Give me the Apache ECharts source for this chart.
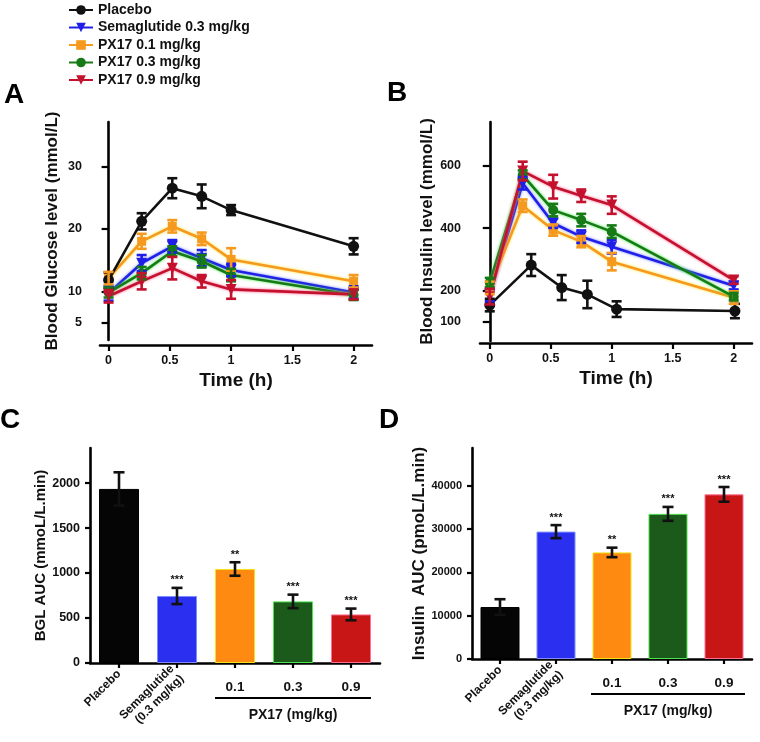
<!DOCTYPE html>
<html>
<head>
<meta charset="utf-8">
<script src="https://cdn.jsdelivr.net/npm/echarts@6/dist/echarts.min.js"></script>
<style>html,body{margin:0;padding:0;background:#fff;}#main{width:760px;height:742px;}</style>
</head>
<body>
<div id="main"></div>
<script>
// ---------- data ----------
var seriesNames = ['Placebo', 'Semaglutide 0.3 mg/kg', 'PX17 0.1 mg/kg', 'PX17 0.3 mg/kg', 'PX17 0.9 mg/kg'];

// Panel A: blood glucose (mmol/L)
var timeA = [0, 0.27, 0.52, 0.76, 1.0, 2.0];
var glucPlacebo = [11.8, 21.2, 26.5, 25.2, 23.0, 17.2];
var glucSema    = [9.7, 14.5, 17.2, 15.3, 13.4, 9.8];
var glucPX01    = [12.1, 18.0, 20.4, 18.4, 15.1, 11.6];
var glucPX03    = [9.8, 12.9, 16.4, 14.8, 12.6, 9.4];
var glucPX09    = [9.2, 11.6, 13.7, 11.6, 10.3, 9.5];
var errGlucPlacebo = [1.2, 1.3, 1.6, 1.9, 0.8, 1.3];
var errGlucSema    = [1.2, 1.3, 1.0, 1.3, 1.0, 1.0];
var errGlucPX01    = [1.0, 1.2, 1.0, 1.0, 1.8, 1.0];
var errGlucPX03    = [0.8, 1.0, 0.8, 1.0, 1.0, 0.8];
var errGlucPX09    = [1.0, 1.3, 1.8, 1.0, 1.5, 0.8];
var ticksA = [5, 10, 20, 30];

// Panel B: blood insulin
var timeB = [0, 0.27, 0.52, 0.75, 1.0, 2.0];
var timeBPlacebo = [0, 0.34, 0.59, 0.8, 1.04, 2.01];
var insPlacebo = [154, 282, 210, 188, 141, 135];
var insSema    = [186, 544, 416, 373, 341, 216];
var insPX01    = [209, 472, 394, 357, 293, 178];
var insPX03    = [226, 570, 458, 426, 389, 181];
var insPX09    = [181, 583, 533, 504, 474, 234];
var errInsPlacebo = [20, 35, 40, 44, 25, 23];
var errInsSema    = [20, 20, 15, 20, 22, 12];
var errInsPX01    = [20, 20, 18, 18, 28, 20];
var errInsPX03    = [15, 15, 20, 20, 20, 12];
var errInsPX09    = [25, 30, 38, 20, 28, 12];
var ticksB = [100, 200, 400, 600];
var ticksTime = [0, 0.5, 1, 1.5, 2];

// Panels C & D: AUC bars
var barCategories = ['Placebo', 'Semaglutide\n(0.3 mg/kg)', '0.1', '0.3', '0.9'];
var bglAUC = [1935, 745, 1045, 685, 540];
var errBglAUC = [185, 90, 75, 75, 65];
var sigBgl = ['', '***', '**', '***', '***'];
var ticksC = [0, 500, 1000, 1500, 2000];
var insAUC = [12000, 29400, 24600, 33500, 38000];
var errInsAUC = [1800, 1500, 1100, 1600, 1700];
var sigIns = ['', '***', '**', '***', '***'];
var ticksD = [0, 10000, 20000, 30000, 40000];
var groupLabel = 'PX17 (mg/kg)';

// ---------- styles ----------
var FONT = 'Liberation Sans, Arial, sans-serif';
var lineColors = ['#111111', '#1f1fe8', '#f59a1e', '#167a16', '#c4122e'];
var haloColors = ['rgba(0,0,0,0)', '#6f7bff', '#ffe23a', '#3fe83f', '#ff5c8a'];
var symbols = ['circle', 'triangle', 'rect', 'circle', 'triangle'];
var symbolRot = [0, 180, 0, 0, 180];
var symbolSizes = [11, 11, 9, 10, 11];
var barColors = ['#050505', '#2a2ff0', '#ff8a12', '#1b5a1b', '#c81616'];
var barBorders = ['#000000', '#7d8cff', '#f2e21a', '#4fe24f', '#ff6f92'];

var chart = echarts.init(document.getElementById('main'), null, {renderer: 'canvas'});

function errRenderer(color, capW, sig) {
  return function (params, api) {
    var x = api.value(0), lo = api.value(1), hi = api.value(2);
    var pHi = api.coord([x, hi]), pLo = api.coord([x, lo]);
    var h = capW / 2;
    var st = {stroke: color, lineWidth: 2.6};
    var children = [
      {type: 'line', shape: {x1: pHi[0], y1: pHi[1], x2: pLo[0], y2: pLo[1]}, style: st},
      {type: 'line', shape: {x1: pHi[0] - h, y1: pHi[1], x2: pHi[0] + h, y2: pHi[1]}, style: st},
      {type: 'line', shape: {x1: pLo[0] - h, y1: pLo[1], x2: pLo[0] + h, y2: pLo[1]}, style: st}
    ];
    if (sig && sig[params.dataIndex]) {
      children.push({type: 'text', style: {text: sig[params.dataIndex], x: pHi[0], y: pHi[1] - 2,
        align: 'center', verticalAlign: 'bottom', font: 'bold 11px ' + FONT, fill: '#111'}});
    }
    return {type: 'group', children: children};
  };
}

function axisBase() {
  return {
    axisLine: {show: true, lineStyle: {color: '#000', width: 2.6}},
    axisTick: {show: true, length: 6, lineStyle: {color: '#000', width: 2.2}},
    axisLabel: {color: '#111', fontWeight: 'bold', fontFamily: FONT, fontSize: 12.5, margin: 10},
    splitLine: {show: false},
    nameTextStyle: {color: '#111', fontWeight: 'bold', fontFamily: FONT}
  };
}
function merge(a, b) { for (var k in b) a[k] = b[k]; return a; }
function plain(v) { return String(v); }

var glucVals = [glucPlacebo, glucSema, glucPX01, glucPX03, glucPX09];
var glucErrs = [errGlucPlacebo, errGlucSema, errGlucPX01, errGlucPX03, errGlucPX09];
var insVals = [insPlacebo, insSema, insPX01, insPX03, insPX09];
var insErrs = [errInsPlacebo, errInsSema, errInsPX01, errInsPX03, errInsPX09];

var series = [];
// line series (A and B)
[0, 1].forEach(function (panel) {
  seriesNames.forEach(function (name, i) {
    var vals = panel === 0 ? glucVals[i] : insVals[i];
    var times = panel === 0 ? timeA : (i === 0 ? timeBPlacebo : timeB);
    series.push({
      type: 'line', name: name, xAxisIndex: panel, yAxisIndex: panel,
      data: times.map(function (t, k) { return [t, vals[k]]; }),
      symbol: symbols[i], symbolRotate: symbolRot[i], symbolSize: symbolSizes[i],
      color: lineColors[i],
      itemStyle: {color: lineColors[i]},
      lineStyle: {color: lineColors[i], width: 2.6, shadowColor: haloColors[i], shadowBlur: i === 0 ? 0 : 3},
      z: panel === 0 ? (i === 0 ? 5 : 3) : (i === 0 ? 3 : 4),
      animation: false
    });
  });
});
// error bars for lines
[0, 1].forEach(function (panel) {
  seriesNames.forEach(function (name, i) {
    var vals = panel === 0 ? glucVals[i] : insVals[i];
    var errs = panel === 0 ? glucErrs[i] : insErrs[i];
    var times = panel === 0 ? timeA : (i === 0 ? timeBPlacebo : timeB);
    series.push({
      type: 'custom', name: name + ' error', xAxisIndex: panel, yAxisIndex: panel,
      renderItem: errRenderer(lineColors[i], 10, null),
      data: times.map(function (t, k) { return [t, vals[k] - errs[k], vals[k] + errs[k]]; }),
      encode: {x: 0, y: [1, 2]}, z: 6, silent: true, animation: false
    });
  });
});
// bars
function barSeries(xi, yi, vals, bw) {
  return {
    type: 'bar', xAxisIndex: xi, yAxisIndex: yi, barWidth: bw, animation: false,
    data: vals.map(function (v, k) {
      return {value: v, itemStyle: {color: barColors[k], borderColor: barBorders[k], borderWidth: 1}};
    })
  };
}
series.push(barSeries(2, 2, bglAUC, 40));
series.push(barSeries(4, 3, insAUC, 39));
series.push({
  type: 'custom', xAxisIndex: 2, yAxisIndex: 2, renderItem: errRenderer('#111', 11, sigBgl),
  data: bglAUC.map(function (v, k) { return [k, v - errBglAUC[k], v + errBglAUC[k]]; }),
  encode: {x: 0, y: [1, 2]}, z: 6, silent: true, animation: false
});
series.push({
  type: 'custom', xAxisIndex: 4, yAxisIndex: 3, renderItem: errRenderer('#111', 11, sigIns),
  data: insAUC.map(function (v, k) { return [k, v - errInsAUC[k], v + errInsAUC[k]]; }),
  encode: {x: 0, y: [1, 2]}, z: 6, silent: true, animation: false
});

function timeAxis(grid, min, max, off) {
  return merge(axisBase(), {
    type: 'value', gridIndex: grid, min: min, max: max, offset: off,
    name: 'Time (h)', nameLocation: 'middle', nameGap: 26,
    nameTextStyle: {color: '#111', fontWeight: 'bold', fontFamily: FONT, fontSize: 19},
    axisTick: {show: true, length: 6, lineStyle: {color: '#000', width: 2.2}, customValues: ticksTime},
    axisLabel: {color: '#111', fontWeight: 'bold', fontFamily: FONT, fontSize: 12.5, margin: 9, customValues: ticksTime}
  });
}
function catAxisRot(grid) {
  return merge(axisBase(), {
    type: 'category', gridIndex: grid, data: barCategories, position: 'bottom',
    axisTick: {show: true, length: 5, alignWithLabel: true, lineStyle: {color: '#000', width: 2.2}},
    axisLabel: {color: '#111', fontWeight: 'bold', fontFamily: FONT, fontSize: 12, rotate: 45, margin: 9,
      lineHeight: 14, interval: 0,
      formatter: function (v, i) { return i < 2 ? v : ''; }}
  });
}
function catAxisFlat(grid) {
  return {
    type: 'category', gridIndex: grid, data: barCategories, position: 'bottom',
    axisLine: {show: false}, axisTick: {show: false}, splitLine: {show: false},
    axisLabel: {color: '#111', fontWeight: 'bold', fontFamily: FONT, fontSize: 13.5, margin: 17, interval: 0,
      formatter: function (v, i) { return i >= 2 ? v : ''; }}
  };
}

var letterStyle = {fontSize: 28, fontWeight: 'bold', fontFamily: FONT, color: '#000'};
var option = {
  backgroundColor: '#fff',
  animation: false,
  title: [
    {text: 'A', left: -1, top: 76, textStyle: letterStyle},
    {text: 'B', left: 382, top: 74, textStyle: letterStyle},
    {text: 'C', left: -5, top: 401, textStyle: letterStyle},
    {text: 'D', left: 374, top: 401, textStyle: letterStyle}
  ],
  legend: {
    data: seriesNames, orient: 'vertical', left: 63, top: -2, itemWidth: 24, itemHeight: 12, itemGap: 3.5,
    textStyle: {fontSize: 14, fontWeight: 'bold', fontFamily: FONT, color: '#111'}
  },
  grid: [
    {left: 100, top: 122, width: 272, height: 218},
    {left: 480, top: 122, width: 272, height: 219},
    {left: 90, top: 448, width: 290, height: 215},
    {left: 472, top: 448, width: 280, height: 211}
  ],
  xAxis: [
    timeAxis(0, -0.07, 2.15, 5),
    timeAxis(1, -0.08, 2.15, 2),
    catAxisRot(2),
    catAxisFlat(2),
    catAxisRot(3),
    catAxisFlat(3)
  ],
  yAxis: [
    merge(axisBase(), {type: 'value', gridIndex: 0, min: 2.2, max: 37.1, offset: 7,
      name: 'Blood Glucose level (mmol/L)', nameLocation: 'middle', nameGap: 32,
      nameTextStyle: {color: '#111', fontWeight: 'bold', fontFamily: FONT, fontSize: 17},
      axisTick: {show: true, length: 7, lineStyle: {color: '#000', width: 2.2}, customValues: ticksA},
      axisLabel: {color: '#111', fontWeight: 'bold', fontFamily: FONT, fontSize: 12.5, margin: 11, customValues: ticksA}}),
    merge(axisBase(), {type: 'value', gridIndex: 1, min: 39, max: 740, offset: 8,
      name: 'Blood Insulin level (mmol/L)', nameLocation: 'middle', nameGap: 31,
      nameTextStyle: {color: '#111', fontWeight: 'bold', fontFamily: FONT, fontSize: 17},
      axisTick: {show: true, length: 7, lineStyle: {color: '#000', width: 2.2}, customValues: ticksB},
      axisLabel: {color: '#111', fontWeight: 'bold', fontFamily: FONT, fontSize: 12.5, margin: 11, customValues: ticksB}}),
    merge(axisBase(), {type: 'value', gridIndex: 2, min: 0, max: 2390,
      name: 'BGL AUC (mmoL/L.min)', nameLocation: 'middle', nameGap: 38,
      nameTextStyle: {color: '#111', fontWeight: 'bold', fontFamily: FONT, fontSize: 15},
      axisTick: {show: true, length: 5, lineStyle: {color: '#000', width: 2.2}, customValues: ticksC},
      axisLabel: {color: '#111', fontWeight: 'bold', fontFamily: FONT, fontSize: 12.5, margin: 10,
        customValues: ticksC, formatter: plain}}),
    merge(axisBase(), {type: 'value', gridIndex: 3, min: 0, max: 48700,
      name: 'Insulin  AUC (pmoL/L.min)', nameLocation: 'middle', nameGap: 39,
      nameTextStyle: {color: '#111', fontWeight: 'bold', fontFamily: FONT, fontSize: 17},
      axisTick: {show: true, length: 5, lineStyle: {color: '#000', width: 2.2}, customValues: ticksD},
      axisLabel: {color: '#111', fontWeight: 'bold', fontFamily: FONT, fontSize: 11, margin: 10,
        customValues: ticksD, formatter: plain}})
  ],
  series: series
};
chart.setOption(option);

// group bracket under PX17 categories, positioned from the axes
function bracket(xAxisIndex, yAxisIndex, half) {
  var a = chart.convertToPixel({xAxisIndex: xAxisIndex}, barCategories[2]);
  var b = chart.convertToPixel({xAxisIndex: xAxisIndex}, barCategories[4]);
  var y0 = chart.convertToPixel({yAxisIndex: yAxisIndex}, 0);
  return [
    {type: 'line', shape: {x1: a - half, y1: y0 + 35, x2: b + half, y2: y0 + 35},
      style: {stroke: '#000', lineWidth: 2.2}},
    {type: 'text', x: (a + b) / 2, y: y0 + 52,
      style: {text: groupLabel, align: 'center', verticalAlign: 'middle', font: 'bold 14px ' + FONT, fill: '#111'}}
  ];
}
chart.setOption({graphic: bracket(2, 2, 20).concat(bracket(4, 3, 21))});
</script>
</body>
</html>
